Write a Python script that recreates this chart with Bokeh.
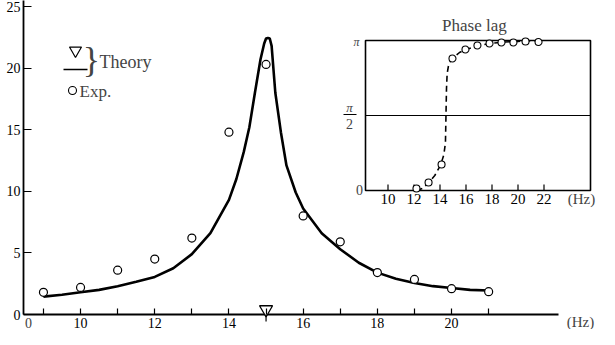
from bokeh.plotting import figure
from bokeh.models import Range1d, FixedTicker, Label
from bokeh.core.properties import value
from bokeh.embed import file_html
from bokeh.resources import INLINE

# ---------------- data ----------------
# theoretical amplitude response
theory_f = [9.0, 9.5, 10.0, 10.5, 11.0, 11.5, 12.0, 12.5, 13.0, 13.5, 14.0, 14.2,
            14.4, 14.55, 14.7, 14.85, 14.95, 15.0, 15.05, 15.1, 15.15, 15.25, 15.4,
            15.55, 15.8, 16.0, 16.5, 17.0, 17.5, 18.0, 18.5, 19.0, 19.5, 20.0, 20.5, 21.0]
theory_a = [1.45, 1.6, 1.8, 2.0, 2.3, 2.65, 3.05, 3.75, 4.9, 6.6, 9.3, 11.0,
            13.2, 15.2, 18.0, 20.7, 22.0, 22.4, 22.45, 22.4, 21.8, 18.0, 14.8,
            12.1, 9.9, 8.6, 6.6, 5.3, 4.2, 3.4, 2.9, 2.55, 2.3, 2.15, 2.0, 1.95]

# experimental amplitude
exp_f = [9, 10, 11, 12, 13, 14, 15, 16, 17, 18, 19, 20, 21]
exp_a = [1.8, 2.2, 3.6, 4.5, 6.2, 14.8, 20.3, 8.0, 5.9, 3.4, 2.85, 2.1, 1.85]

# natural frequency marker
nat_f = [15.0]

# phase lag (in units of pi)
phase_theory_f = [12.2, 12.7, 13.1, 13.6, 14.05, 14.3, 14.42, 14.46, 14.5, 14.55,
                  14.65, 14.8, 14.95, 15.5, 16.0, 17.0, 18.0, 19.0, 20.0, 21.0, 21.6]
phase_theory_p = [0.0, 0.015, 0.05, 0.1, 0.17, 0.24, 0.32, 0.5, 0.68, 0.78,
                  0.83, 0.86, 0.88, 0.92, 0.94, 0.967, 0.982, 0.99, 0.994, 0.997, 1.0]
phase_exp_f = [12.19, 13.12, 14.12, 14.96, 15.96, 16.88, 17.81, 18.73, 19.65, 20.58, 21.58]
phase_exp_p = [0.013, 0.053, 0.173, 0.88, 0.94, 0.967, 0.98, 0.987, 0.987, 0.993, 0.99]

# tick definitions
main_x_ticks = [9, 10, 11, 12, 13, 14, 15, 16, 17, 18, 19, 20, 21]
main_x_labels = {10: "10", 12: "12", 14: "14", 16: "16", 18: "18", 20: "20"}
main_x_origin_label = "0"
main_y_ticks = [0, 5, 10, 15, 20, 25]
inset_x_ticks = [10, 12, 14, 16, 18, 20, 22]
inset_x_labels = ["10", "12", "14", "16", "18", "20", "22"]

# ---------------- layout constants ----------------
FONT = "Liberation Serif"
W, H = 599, 329                 # figure == frame (page x 8..607, y 8..337)
SX, SY = 37.1, 12.32            # main px per Hz, px per unit
X0 = 8.5 - (32.4 - 8) / SX
X1 = X0 + W / SX
Y1 = (322 - 8) / SY
Y0 = -(337 - 322) / SY
ISX, ISY = 13.0, 150.0          # inset px per Hz, px per pi
IX0 = 10 - (395.5 - 8) / ISX
IX1 = IX0 + W / ISX
IY1 = (198 - 8) / ISY
IY0 = -(337 - 198) / ISY

def mx(px): return X0 + (px - 8) / SX
def my(py): return (322 - py) / SY
def ix(px): return IX0 + (px - 8) / ISX
def iy(py): return (198 - py) / ISY

AXIS_X = mx(31)                 # location of y axis line
AXIS_END = mx(566)              # end of x axis line
BOX_L, BOX_R = ix(373), ix(598) # inset box

p = figure(width=W, height=H, output_backend="svg", toolbar_location=None,
           x_range=Range1d(X0, X1), y_range=Range1d(Y0, Y1),
           min_border_left=0, min_border_right=0, min_border_top=0, min_border_bottom=0)
p.extra_x_ranges = {"ix": Range1d(IX0, IX1)}
p.extra_y_ranges = {"iy": Range1d(IY0, IY1)}
p.outline_line_color = None
p.grid.visible = False
p.background_fill_color = "white"
p.border_fill_color = "white"

# axes (placed inside the frame)
xa = p.xaxis[0]
xa.fixed_location = 0
xa.ticker = FixedTicker(ticks=main_x_ticks, minor_ticks=[])
xa.major_label_overrides = {t: main_x_labels.get(t, "") for t in main_x_ticks}
xa.axis_line_color = None
xa.major_tick_in = 6
xa.major_tick_out = 0
xa.major_tick_line_width = 1.2
xa.major_label_standoff = 3
xa.major_label_text_font = FONT
xa.major_label_text_font_size = "14px"
xa.major_label_text_color = "black"

ya = p.yaxis[0]
ya.fixed_location = AXIS_X
ya.ticker = FixedTicker(ticks=main_y_ticks, minor_ticks=[])
ya.axis_line_color = None
ya.major_tick_in = 8
ya.major_tick_out = 0
ya.major_tick_line_width = 1.2
ya.major_label_standoff = 3
ya.major_label_text_font = FONT
ya.major_label_text_font_size = "14px"
ya.major_label_text_color = "black"

# axis lines
p.segment(x0=[AXIS_X], y0=[0], x1=[AXIS_END], y1=[0], line_color="black", line_width=1.8)
p.segment(x0=[AXIS_X], y0=[0], x1=[AXIS_X], y1=[my(4)], line_color="black", line_width=1.8)
p.add_layout(Label(x=mx(36), y=my(330), text=main_x_origin_label, text_font=FONT,
                   text_font_size="14px", text_align="center", text_baseline="middle"))

# main curves
p.line(theory_f, theory_a, line_color="black", line_width=2.6)
p.scatter(exp_f, exp_a, marker="circle", size=8, fill_color="white",
          line_color="black", line_width=1.2)
p.scatter(nat_f, [my(317)], marker="inverted_triangle", size=13, fill_color="white",
          line_color="black", line_width=1.3)
p.segment(x0=nat_f, y0=[0], x1=nat_f, y1=[my(329)], line_color="black", line_width=1.2)

p.add_layout(Label(x=mx(588), y=my(329), text="(Hz)", text_font=FONT,
                   text_font_size="15px", text_align="center", text_baseline="middle"))

# legend
p.scatter([mx(83)], [my(58)], marker="inverted_triangle", size=12, fill_color="white",
          line_color="black", line_width=1.2)
p.segment(x0=[mx(71)], y0=[my(77)], x1=[mx(95)], y1=[my(77)], line_color="black", line_width=1.3)
p.add_layout(Label(x=mx(99), y=my(67), text="}", text_font=FONT, text_font_size="36px",
                   text_align="center", text_baseline="middle"))
p.add_layout(Label(x=mx(107), y=my(69), text="Theory", text_font=FONT,
                   text_font_size="18px", text_align="left", text_baseline="middle"))
p.scatter([mx(80)], [my(98)], marker="circle", size=8, fill_color="white",
          line_color="black", line_width=1.1)
p.add_layout(Label(x=mx(87), y=my(99), text="Exp.", text_font=FONT,
                   text_font_size="17px", text_align="left", text_baseline="middle"))

# ---------------- inset (phase lag) ----------------
R = dict(x_range_name="ix", y_range_name="iy")
p.quad(left=[BOX_L], right=[BOX_R], bottom=[0], top=[1], fill_color="white",
       line_color="black", line_width=1.6, **R)
p.segment(x0=[BOX_L], y0=[0.5], x1=[BOX_R], y1=[0.5], line_color="black", line_width=1.2, **R)
p.segment(x0=inset_x_ticks, y0=[0] * len(inset_x_ticks), x1=inset_x_ticks,
          y1=[0.04] * len(inset_x_ticks), line_color="black", line_width=1.2, **R)
p.text(x=inset_x_ticks, y=[iy(206)] * len(inset_x_ticks), text=inset_x_labels,
       text_font=value(FONT), text_font_size="15px", text_align="center",
       text_baseline="middle", text_color="black", **R)
p.line(phase_theory_f, phase_theory_p, line_color="black", line_width=1.6,
       line_dash="6 4", **R)
p.scatter(phase_exp_f, phase_exp_p, marker="circle", size=7, fill_color="white",
          line_color="black", line_width=1.1, **R)

p.add_layout(Label(x=ix(589), y=iy(206), text="(Hz)", text_font=FONT, text_font_size="15px",
                   text_align="center", text_baseline="middle", **R))
p.add_layout(Label(x=ix(484), y=iy(33), text="Phase  lag", text_font=FONT,
                   text_font_size="17px", text_align="center", text_baseline="middle", **R))
p.add_layout(Label(x=ix(364), y=iy(49), text="π", text_font=FONT, text_font_size="12px",
                   text_font_style="italic", text_align="center", text_baseline="middle", **R))
p.add_layout(Label(x=ix(367), y=iy(197), text="0", text_font=FONT, text_font_size="14px",
                   text_align="center", text_baseline="middle", **R))
p.add_layout(Label(x=ix(357), y=iy(115), text="π", text_font=FONT, text_font_size="13px",
                   text_font_style="italic", text_align="center", text_baseline="middle", **R))
p.segment(x0=[ix(351)], y0=[iy(122)], x1=[ix(364)], y1=[iy(122)], line_color="black",
          line_width=1.0, **R)
p.add_layout(Label(x=ix(357), y=iy(131), text="2", text_font=FONT, text_font_size="14px",
                   text_align="center", text_baseline="middle", **R))

open("out.html", "w").write(file_html(p, INLINE))
